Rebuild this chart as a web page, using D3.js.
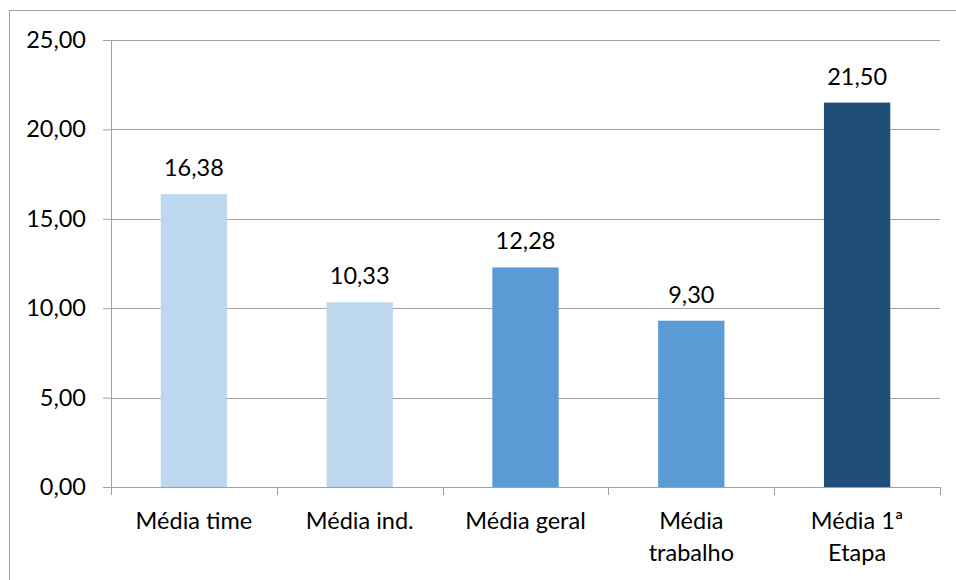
<!DOCTYPE html>
<html>
<head>
<meta charset="utf-8">
<script src="https://cdn.jsdelivr.net/npm/d3@7"></script>
<style>
  body { margin: 0; background: #fff; }
  text { font-family: Lato, "Open Sans", sans-serif; fill: #000; }
</style>
</head>
<body>
<div id="chart"></div>
<script>
// chart data
const categories = ['Média time', 'Média ind.', 'Média geral', 'Média trabalho', 'Média 1ª Etapa'];
const labelLines = [['Média time'], ['Média ind.'], ['Média geral'], ['Média', 'trabalho'], ['Média 1ª', 'Etapa']];
const values = [16.38, 10.33, 12.28, 9.30, 21.50];
const barColors = ['#BDD7EE', '#BDD7EE', '#5B9BD5', '#5B9BD5', '#1F4E79'];
const yTicks = [0, 5, 10, 15, 20, 25];

const W = 956, H = 580;
const margin = { top: 40, left: 111 };
const width = 940 - margin.left;
const height = 487 - margin.top;
const fontSize = '23.5px';
const fmt = v => d3.format('.2f')(v).replace('.', ',');

const svg = d3.select('#chart').append('svg')
  .attr('width', W)
  .attr('height', H);

// outer frame
svg.append('rect')
  .attr('x', 9.5).attr('y', 10.5)
  .attr('width', W).attr('height', H)
  .attr('fill', 'none')
  .attr('stroke', '#A0A0A0')
  .attr('stroke-width', 1);

const g = svg.append('g')
  .attr('transform', 'translate(' + margin.left + ',' + margin.top + ')');

const x = d3.scaleBand().domain(categories).range([0, width]).paddingInner(0.6).paddingOuter(0.3);
const y = d3.scaleLinear().domain([0, 25]).range([height, 0]);

// gridlines
g.append('g')
  .selectAll('line')
  .data(yTicks.filter(t => t > 0))
  .join('line')
  .attr('x1', 0).attr('x2', width)
  .attr('y1', d => Math.round(y(d)) + 0.5).attr('y2', d => Math.round(y(d)) + 0.5)
  .attr('stroke', '#A0A0A0');

// y axis
const yAxis = g.append('g')
  .call(d3.axisLeft(y).tickValues(yTicks).tickSize(8).tickFormat(fmt))
  .call(a => a.select('.domain').attr('stroke', '#A0A0A0'));
yAxis.selectAll('.tick line').attr('stroke', '#A0A0A0');
yAxis.selectAll('.tick text').attr('x', -25).style('font-size', fontSize);

// bars
g.selectAll('.bar')
  .data(values)
  .join('rect')
  .attr('class', 'bar')
  .attr('x', (d, i) => x(categories[i]))
  .attr('width', x.bandwidth())
  .attr('y', d => y(d))
  .attr('height', d => height - y(d))
  .attr('fill', (d, i) => barColors[i]);

// value labels
g.selectAll('.val')
  .data(values)
  .join('text')
  .attr('class', 'val')
  .attr('x', (d, i) => x(categories[i]) + x.bandwidth() / 2)
  .attr('y', d => y(d) - 18)
  .attr('text-anchor', 'middle')
  .style('font-size', fontSize)
  .text(fmt);

// x axis with ticks at category boundaries
const step = width / categories.length;
const xb = g.append('g').attr('transform', 'translate(0,' + height + ')');
xb.append('line').attr('x1', 0).attr('x2', width).attr('y1', 0.5).attr('y2', 0.5).attr('stroke', '#A0A0A0');
xb.selectAll('.tk')
  .data(d3.range(categories.length + 1))
  .join('line')
  .attr('class', 'tk')
  .attr('x1', d => Math.round(d * step) + 0.5).attr('x2', d => Math.round(d * step) + 0.5)
  .attr('y1', 0).attr('y2', 8)
  .attr('stroke', '#A0A0A0');

const lbl = xb.selectAll('.cat')
  .data(categories)
  .join('text')
  .attr('class', 'cat')
  .attr('text-anchor', 'middle')
  .style('font-size', fontSize)
  .attr('transform', d => 'translate(' + (x(d) + x.bandwidth() / 2) + ',42)');
lbl.selectAll('tspan')
  .data((d, i) => labelLines[i])
  .join('tspan')
  .attr('x', 0)
  .attr('dy', (d, i) => i === 0 ? 0 : 32)
  .text(d => d);
</script>
</body>
</html>
